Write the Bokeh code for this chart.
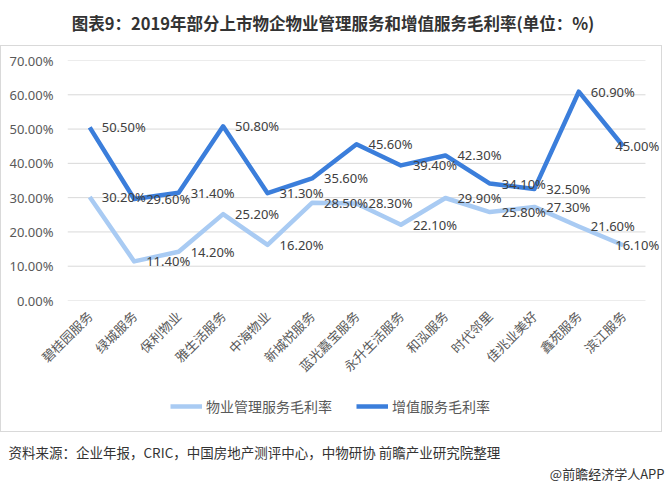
from bokeh.plotting import figure
from bokeh.layouts import column
from bokeh.models import (LabelSet, Legend, LegendItem, FixedTicker,
                          PrintfTickFormatter, Range1d, ColumnDataSource)
from bokeh.core.properties import value
from bokeh.embed import file_html
from bokeh.resources import INLINE
import math

# ---------------- data ----------------
companies = ["碧桂园服务", "绿城服务", "保利物业", "雅生活服务", "中海物业", "新城悦服务",
             "蓝光嘉宝服务", "永升生活服务", "和泓服务", "时代邻里", "佳兆业美好",
             "鑫苑服务", "滨江服务"]
property_mgmt_margin = [30.2, 11.4, 14.2, 25.2, 16.2, 28.5, 28.3, 22.1, 29.9, 25.8, 27.3, 21.6, 16.1]
value_added_margin = [50.5, 29.6, 31.4, 50.8, 31.3, 35.6, 45.6, 39.4, 42.3, 34.1, 32.5, 60.9, 45.0]
y_ticks = [0, 10, 20, 30, 40, 50, 60, 70]
series_names = ["物业管理服务毛利率", "增值服务毛利率"]
title_text = "图表9：2019年部分上市物企物业管理服务和增值服务毛利率(单位：%)"
source_text = "资料来源：企业年报，CRIC，中国房地产测评中心，中物研协  前瞻产业研究院整理"
credit_text = "@前瞻经济学人APP"

# ---------------- style ----------------
W = 665
LIGHT = "#a9cbf3"
DARK = "#3b7edb"
GRID = "#d9d9d9"
TXT = "#595959"
LBL = "#404040"
DARKTXT = "#333333"
CJK = "Noto Sans CJK SC"
NUM = "Noto Sans"


def blank(width, height, xr, yr):
    f = figure(width=width, height=height, output_backend="svg", toolbar_location=None,
               x_range=Range1d(*xr), y_range=Range1d(*yr),
               x_axis_type=None, y_axis_type=None, min_border=0)
    f.outline_line_color = None
    f.grid.visible = False
    f.background_fill_color = "white"
    f.border_fill_color = "white"
    return f


# ---------- title ----------
TH = 45
pt = blank(W, TH, (0, W), (0, TH))
pt.text(x=[W / 2], y=[TH - 22], text=[title_text], text_align="center",
        text_baseline="middle", text_font=value(CJK), text_font_style="bold",
        text_font_size="16.5px", text_color=DARKTXT)

# ---------- main chart ----------
BW = 660          # inner width of bordered box
MH = 346          # main chart height
n = len(companies)
band = 44.46
frame_left = 66
frame_w = BW - frame_left
x_start = -0.5
x_end = x_start + frame_w / band

p = figure(width=BW, height=MH, output_backend="svg", toolbar_location=None,
           x_range=Range1d(x_start, x_end), y_range=Range1d(0, 70),
           min_border_left=frame_left, min_border_right=0, min_border_top=14,
           min_border_bottom=MH - 254)
p.outline_line_color = None
p.background_fill_color = "white"
p.border_fill_color = "white"
p.xgrid.visible = False
p.ygrid.visible = False

p.yaxis.ticker = FixedTicker(ticks=y_ticks)
p.yaxis.formatter = PrintfTickFormatter(format="%.2f%%")
p.yaxis.axis_line_color = None
p.yaxis.major_tick_line_color = None
p.yaxis.minor_tick_line_color = None
p.yaxis.major_tick_out = 0
p.yaxis.major_tick_in = 0
p.yaxis.major_label_standoff = 14
p.yaxis.major_label_text_font = NUM
p.yaxis.major_label_text_font_size = "13px"
p.yaxis.major_label_text_color = TXT

p.xaxis.ticker = FixedTicker(ticks=list(range(n)))
p.xaxis.major_label_overrides = {i: c for i, c in enumerate(companies)}
p.xaxis.axis_line_color = None
p.xaxis.major_tick_line_color = None
p.xaxis.minor_tick_line_color = None
p.xaxis.major_tick_out = 0
p.xaxis.major_tick_in = 0
p.xaxis.major_label_orientation = math.pi / 4
p.xaxis.major_label_standoff = 13
p.xaxis.major_label_text_font = CJK
p.xaxis.major_label_text_font_size = "13px"
p.xaxis.major_label_text_color = TXT

# gridlines spanning the category area only
p.segment(x0=[x_start] * len(y_ticks), x1=[n - 0.5] * len(y_ticks),
          y0=y_ticks, y1=y_ticks, line_color=GRID, line_width=1)

src = ColumnDataSource(dict(
    x=list(range(n)), pm=property_mgmt_margin, va=value_added_margin,
    pm_t=[f"{v:.2f}%" for v in property_mgmt_margin],
    va_t=[f"{v:.2f}%" for v in value_added_margin],
    off=[12] * (n - 1) + [-8],
))
p.line("x", "pm", source=src, line_color=LIGHT, line_width=4.5, line_join="round")
p.line("x", "va", source=src, line_color=DARK, line_width=4.5, line_join="round")

for col, tcol in (("pm", "pm_t"), ("va", "va_t")):
    p.add_layout(LabelSet(x="x", y=col, text=tcol, source=src, x_offset="off",
                          text_baseline="middle", text_align="left",
                          text_font=value(NUM), text_font_size="13px", text_color=LBL))

# ---------- legend strip ----------
LH = 39
pl = blank(BW, LH, (0, BW), (0, LH))
# legend-only renderers, placed outside the visible range
r1 = pl.line(x=[-20, -10], y=[-20, -10], line_color=LIGHT, line_width=4.5)
r2 = pl.line(x=[-20, -10], y=[-20, -10], line_color=DARK, line_width=4.5)
legend = Legend(items=[LegendItem(label=series_names[0], renderers=[r1]),
                       LegendItem(label=series_names[1], renderers=[r2])],
                orientation="horizontal", location=(103, 15),
                padding=0, margin=0, spacing=24, label_standoff=4,
                glyph_width=32, glyph_height=16,
                label_text_font=CJK, label_text_font_size="14px", label_text_color=TXT,
                border_line_color=None, background_fill_alpha=0)
pl.add_layout(legend, "center")

box = column(p, pl, spacing=0, styles={"border": "1px solid #d9d9d9"})

# ---------- footer ----------
FH = 51
pf = blank(W, FH, (0, W), (0, FH))
pf.text(x=[8], y=[FH - 19], text=[source_text], text_align="left", text_baseline="middle",
        text_font=value(CJK), text_font_size="13.5px", text_color=DARKTXT)
pf.text(x=[W - 1], y=[FH - 41], text=[credit_text], text_align="right",
        text_baseline="middle", text_font=value(CJK), text_font_size="13px",
        text_color=DARKTXT)

page = column(pt, box, pf, spacing=0)
open("out.html", "w").write(file_html(page, INLINE))
